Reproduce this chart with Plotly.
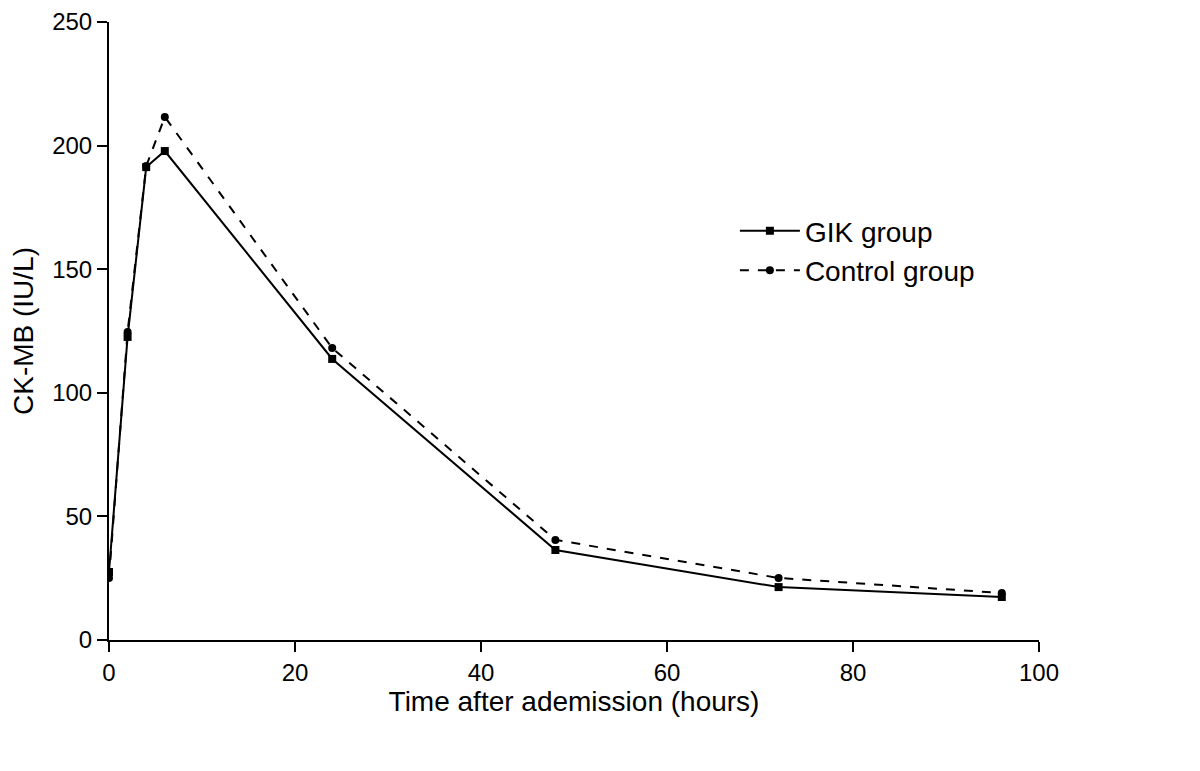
import plotly.graph_objects as go

hours = [0, 2, 4, 6, 24, 48, 72, 96]
gik = [27.5, 122.6, 191.3, 197.8, 113.7, 36.4, 21.4, 17.4]
control = [25.1, 124.6, 191.7, 211.6, 118.1, 40.5, 25.1, 19.0]

fig = go.Figure()
fig.add_trace(go.Scatter(x=hours, y=gik, mode="lines+markers", name="GIK group",
                         line=dict(color="black", width=2, dash="solid"),
                         marker=dict(symbol="square", size=8, color="black")))
fig.add_trace(go.Scatter(x=hours, y=control, mode="lines+markers", name="Control group",
                         line=dict(color="black", width=2, dash="dash"),
                         marker=dict(symbol="circle", size=8, color="black")))

axis_common = dict(showline=True, linecolor="black", linewidth=2, ticks="outside",
                   ticklen=10, tickwidth=2, tickcolor="black", showgrid=False, zeroline=False,
                   automargin=False,
                   tickfont=dict(family="Liberation Sans, Arial", size=24, color="black"))

# the page body adds an 8px offset, so margins are reduced accordingly
fig.update_layout(
    width=1200, height=771,
    margin=dict(l=101, r=169, t=14, b=139),
    plot_bgcolor="white", paper_bgcolor="white",
    font=dict(family="Liberation Sans, Arial", color="black"),
    xaxis=dict(range=[0, 100], tickvals=[0, 20, 40, 60, 80, 100],
               title=dict(text="Time after ademission (hours)", font=dict(size=28), standoff=6),
               **axis_common),
    yaxis=dict(range=[0, 250], tickvals=[0, 50, 100, 150, 200, 250],
               title=dict(text="CK-MB (IU/L)", font=dict(size=28), standoff=14),
               **axis_common),
    legend=dict(x=0.673, y=0.702, xanchor="left", yanchor="top", bgcolor="rgba(0,0,0,0)",
                font=dict(size=28, color="black"), itemwidth=60),
    showlegend=True,
)

fig.write_html("out.html")
